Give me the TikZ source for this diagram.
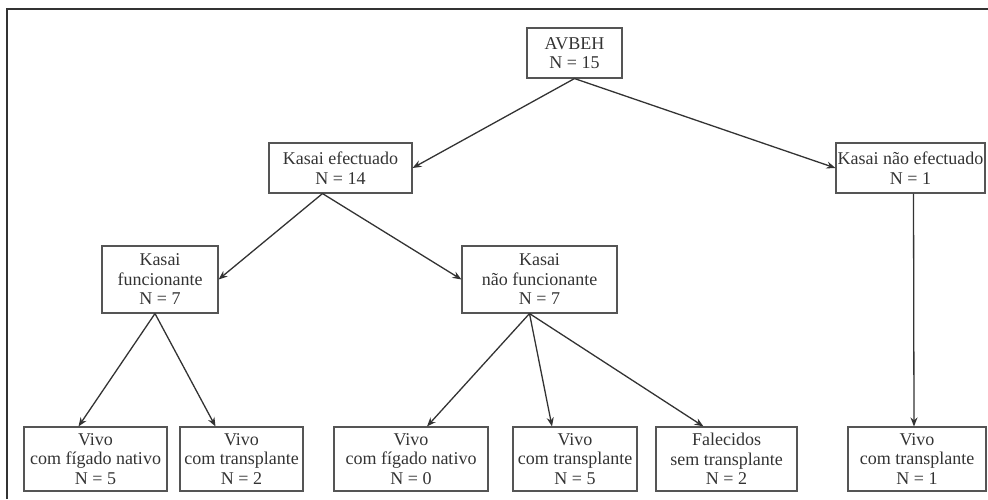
\documentclass[tikz,border=0pt]{standalone}
\usepackage{fontspec}
\setmainfont{Liberation Serif}
\usepackage{tikz}
\usetikzlibrary{arrows.meta}
\definecolor{tinta}{HTML}{333333}
\definecolor{borda}{HTML}{555555}
\newcommand{\grossura}{1.1pt}
\tikzset{
  caixa/.style={draw=borda, line width=\grossura, text=tinta, align=center,
    inner sep=1pt, font=\fontsize{18}{19.5}\selectfont},
  seta/.style={draw=tinta, line width=1.3pt, -{Stealth[length=9pt,width=7pt]}}
}

\begin{document}
\begin{tikzpicture}[x=1pt, y=-1pt]
\useasboundingbox (0,0) rectangle (988,499);
%moldura
\draw[line width=2pt, draw=tinta] (7,499) -- (7,9) -- (988,9);
%nivel 0
\node[caixa, minimum width=95pt, minimum height=50pt] (avbeh) at (574.5,53) {AVBEH\\N = 15};
%nivel 1
\node[caixa, minimum width=143pt, minimum height=50pt] (kef) at (340.5,168) {Kasai efectuado\\N = 14};
\node[caixa, minimum width=149pt, minimum height=50pt] (knef) at (910.5,168) {Kasai não efectuado\\N = 1};
%nivel 2
\node[caixa, minimum width=116pt, minimum height=67pt] (kf) at (160,279.5) {Kasai\\funcionante\\N = 7};
\node[caixa, minimum width=155pt, minimum height=67pt] (knf) at (539.5,279.5) {Kasai\\não funcionante\\N = 7};
%nivel 3
\node[caixa, minimum width=143pt, minimum height=64pt] (b1) at (95.5,459) {Vivo\\com fígado nativo\\N = 5};
\node[caixa, minimum width=123pt, minimum height=64pt] (b2) at (241.5,459) {Vivo\\com transplante\\N = 2};
\node[caixa, minimum width=154pt, minimum height=64pt] (b3) at (411,459) {Vivo\\com fígado nativo\\N = 0};
\node[caixa, minimum width=124pt, minimum height=64pt] (b4) at (575,459) {Vivo\\com transplante\\N = 5};
\node[caixa, minimum width=141pt, minimum height=64pt] (b5) at (726.5,459) {Falecidos\\sem transplante\\N = 2};
\node[caixa, minimum width=138pt, minimum height=64pt] (b6) at (917,459) {Vivo\\com transplante\\N = 1};
%setas
\draw[seta] (avbeh.south) -- (kef.east);
\draw[seta] (avbeh.south) -- (knef.west);
\draw[seta] ([xshift=-18pt]kef.south) -- (kf.east);
\draw[seta] ([xshift=-18pt]kef.south) -- (knf.west);
\draw[seta] ([xshift=-5pt]kf.south) -- ([xshift=-17pt]b1.north);
\draw[seta] ([xshift=-5pt]kf.south) -- ([xshift=-26pt]b2.north);
\draw[seta] ([xshift=-10pt]knf.south) -- ([xshift=16pt]b3.north);
\draw[seta] ([xshift=-10pt]knf.south) -- ([xshift=-23pt]b4.north);
\draw[seta] ([xshift=-10pt]knf.south) -- ([xshift=-23pt]b5.north);
\draw[seta] ([xshift=3pt]knef.south) -- ([xshift=-3pt]b6.north);
\end{tikzpicture}
\end{document}
